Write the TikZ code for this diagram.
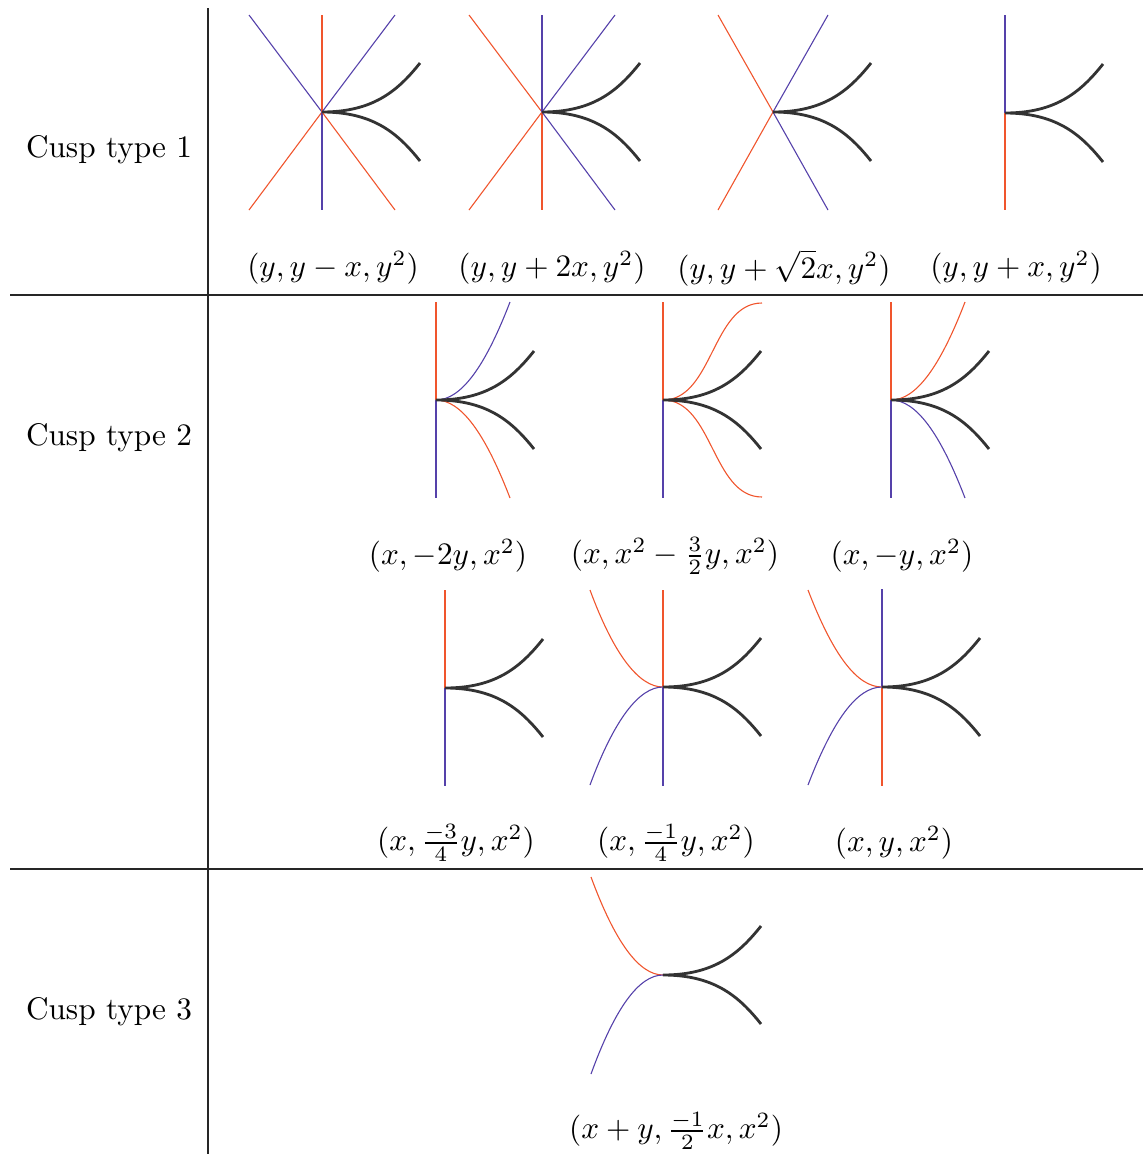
\documentclass[tikz,border=0pt]{standalone}
\usepackage{amsmath}
\definecolor{branchred}{RGB}{240,85,45}
\definecolor{branchblue}{RGB}{85,65,170}
\begin{document}
\begin{tikzpicture}[x=0.32pt,y=-0.32pt,
    rule/.style={black!85,line width=0.4pt},
    cusp/.style={black!80,line width=0.9pt},
    rb/.style={branchred,line width=0.35pt},
    bb/.style={branchblue,line width=0.35pt}]
  \useasboundingbox (0,0) rectangle (1143,1154);

  % table rules
  \draw[rule] (208,8) -- (208,1154);
  \draw[rule] (10,295) -- (1143,295);
  \draw[rule] (10,869) -- (1143,869);

  \node (T1) at (109,150){Cusp type 1};
  \node (T2) at (109,438){Cusp type 2};
  \node (T3) at (109,1012){Cusp type 3};

  % cusp points
  \coordinate (A1) at (322,112);
  \coordinate (A2) at (542,112);
  \coordinate (A3) at (773,112);
  \coordinate (A4) at (1005,113);
  \coordinate (B1) at (436,400);
  \coordinate (B2) at (663,400);
  \coordinate (B3) at (891,400);
  \coordinate (C1) at (445,688);
  \coordinate (C2) at (663,687);
  \coordinate (C3) at (882,687);
  \coordinate (D1) at (663,975);

  % type 1
  \draw[bb] (A1) -- +(-73,-97);
  \draw[rb] (A1) -- +(0,-97);
  \draw[bb] (A1) -- +(73,-97);
  \draw[rb] (A1) -- +(-73,98);
  \draw[bb] (A1) -- +(0,98);
  \draw[rb] (A1) -- +(73,98);

  \draw[rb] (A2) -- +(-73,-97);
  \draw[bb] (A2) -- +(0,-97);
  \draw[bb] (A2) -- +(73,-97);
  \draw[rb] (A2) -- +(-73,98);
  \draw[rb] (A2) -- +(0,98);
  \draw[bb] (A2) -- +(73,98);

  \draw[rb] (A3) -- +(-55,-97);
  \draw[bb] (A3) -- +(55,-97);
  \draw[rb] (A3) -- +(-55,98);
  \draw[bb] (A3) -- +(55,98);

  \draw[bb] (A4) -- +(0,-98);
  \draw[rb] (A4) -- +(0,97);

  % type 2
  \draw[rb] (B1) -- +(0,-98);
  \draw[bb] (B1) -- +(0,98);
  \draw[bb] (B1) .. controls +(25,0) and +(-25,65) .. +(74,-98);
  \draw[rb] (B1) .. controls +(25,0) and +(-25,-65) .. +(74,98);

  \draw[rb] (B2) -- +(0,-98);
  \draw[bb] (B2) -- +(0,98);
  \draw[rb] (B2) .. controls +(50,0) and +(-50,0) .. +(99,-97);
  \draw[rb] (B2) .. controls +(50,0) and +(-50,0) .. +(99,97);

  \draw[rb] (B3) -- +(0,-98);
  \draw[bb] (B3) -- +(0,98);
  \draw[rb] (B3) .. controls +(25,0) and +(-25,65) .. +(74,-98);
  \draw[bb] (B3) .. controls +(25,0) and +(-25,-65) .. +(74,98);

  \draw[rb] (C1) -- +(0,-98);
  \draw[bb] (C1) -- +(0,98);

  \draw[rb] (C2) -- +(0,-97);
  \draw[bb] (C2) -- +(0,99);
  \draw[rb] (C2) .. controls +(-24,0) and +(24,65) .. +(-73,-97);
  \draw[bb] (C2) .. controls +(-24,0) and +(24,-65) .. +(-73,98);

  \draw[bb] (C3) -- +(0,-98);
  \draw[rb] (C3) -- +(0,99);
  \draw[rb] (C3) .. controls +(-25,0) and +(25,65) .. +(-74,-97);
  \draw[bb] (C3) .. controls +(-25,0) and +(25,-65) .. +(-74,98);

  % type 3
  \draw[rb] (D1) .. controls +(-24,0) and +(24,65) .. +(-72,-98);
  \draw[bb] (D1) .. controls +(-24,0) and +(24,-66) .. +(-72,99);

  % the cusps themselves
  \foreach \c in {A1,A2,A3,A4,B1,B2,B3,C1,C2,C3,D1}
    \draw[cusp] (\c) .. controls +(50,0) and +(-23,29) .. +(98,-49)
      (\c) .. controls +(50,0) and +(-23,-29) .. +(98,49);

  % labels
  \node (a1) at (333,268){$(y,y-x,y^2)$};
  \node (a2) at (552,268){$(y,y+2x,y^2)$};
  \node (a3) at (784,268){$(y,y+\sqrt{2}x,y^2)$};
  \node (a4) at (1016,268){$(y,y+x,y^2)$};
  \node (b1) at (448,556){$(x,-2y,x^2)$};
  \node (b2) at (675,556){$(x,x^2-\frac{3}{2}y,x^2)$};
  \node (b3) at (902,556){$(x,-y,x^2)$};
  \node (c1) at (456,843){$(x,\frac{-3}{4}y,x^2)$};
  \node (c2) at (676,843){$(x,\frac{-1}{4}y,x^2)$};
  \node (c3) at (894,843){$(x,y,x^2)$};
  \node (d1) at (676,1131){$(x+y,\frac{-1}{2}x,x^2)$};
\end{tikzpicture}
\end{document}
